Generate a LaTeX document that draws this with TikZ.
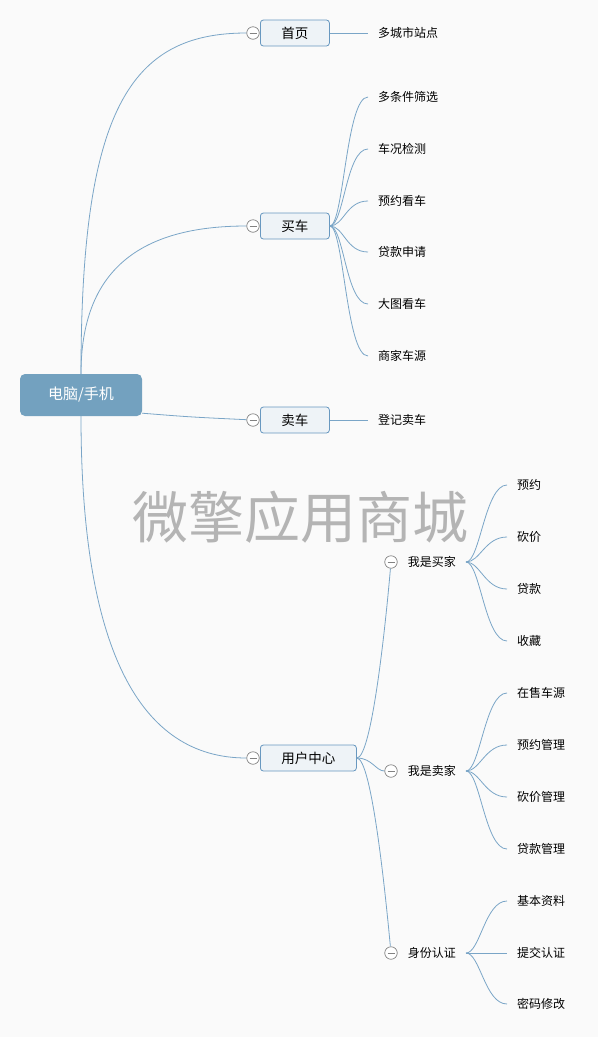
\documentclass[tikz,border=0pt]{standalone}
\usepackage{fontspec}
\setmainfont{Noto Sans CJK SC}
\usetikzlibrary{positioning}
\definecolor{bgc}{RGB}{250,250,250}
\definecolor{linkc}{RGB}{122,165,199}
\definecolor{rootfill}{RGB}{115,161,191}
\definecolor{boxfill}{RGB}{238,243,247}
\definecolor{boxdraw}{RGB}{104,152,192}
\definecolor{foldc}{RGB}{130,130,130}
\definecolor{markc}{RGB}{180,180,180}
\tikzset{
  rootnode/.style = {shape=rectangle, rounded corners=5pt, fill=rootfill,
                     text=white, minimum width=122pt, minimum height=42pt,
                     font=\fontsize{15}{17}\selectfont},
  topic/.style    = {shape=rectangle, rounded corners=3pt, draw=boxdraw,
                     line width=0.8pt, fill=boxfill, anchor=west,
                     minimum height=26pt, inner xsep=21pt,
                     font=\fontsize{13.5}{15}\selectfont},
  fold/.style     = {circle, draw=foldc, fill=white, minimum size=12.5pt,
                     inner sep=0pt, line width=0.7pt,
                     path picture={\draw[foldc, line width=0.7pt] ([xshift=-3.5pt]path picture bounding box.center)
                       -- ([xshift=3.5pt]path picture bounding box.center);}},
  sub/.style      = {anchor=west, inner xsep=10pt, font=\fontsize{12}{14}\selectfont},
  leaf/.style     = {sub},
  link/.style     = {draw=linkc, line width=0.8pt}
}

\begin{document}
\begin{tikzpicture}[x=1pt,y=-1pt]
\fill[bgc] (0,0) rectangle (598,1037);
% watermark
\node[text=markc, font=\fontsize{56}{60}\selectfont] (mark) at (300,517) {微擎应用商城};

\node[rootnode] (root) at (81,395) {电脑/手机};

% first level
\node[fold] (c-home) at (253,33) {};
\node[topic] (home) at (260,33) {首页};
\node[fold] (c-buy) at (253,226) {};
\node[topic] (buy) at (260,226) {买车};
\node[fold] (c-sell) at (253,420) {};
\node[topic] (sell) at (260,420) {卖车};
\node[fold] (c-user) at (253,758) {};
\node[topic] (user) at (260,758) {用户中心};

\draw[link] (root.north) .. controls (81,110) and (130,33) .. (c-home);
\draw[link] (root.north) .. controls (81,270) and (140,226) .. (c-buy);
\draw[link] ([yshift=3pt]root.south east) .. controls (190,417) .. (c-sell);
\draw[link] (root.south) .. controls (81,650) and (140,758) .. (c-user);

% home
\node[leaf] (l-city) at (368,33) {多城市站点};
\draw[link] (home.east) -- (l-city.west);

% buy car
\node[leaf] (l-filter) at (368,97) {多条件筛选};
\node[leaf] (l-check) at (368,149) {车况检测};
\node[leaf] (l-book) at (368,201) {预约看车};
\node[leaf] (l-loan) at (368,252) {贷款申请};
\node[leaf] (l-photo) at (368,304) {大图看车};
\node[leaf] (l-dealer) at (368,356) {商家车源};
\draw[link] (buy.east) .. controls +(14,0) and +(-22,0) .. (l-filter.west);
\draw[link] (buy.east) .. controls +(14,0) and +(-22,0) .. (l-check.west);
\draw[link] (buy.east) .. controls +(14,0) and +(-22,0) .. (l-book.west);
\draw[link] (buy.east) .. controls +(14,0) and +(-22,0) .. (l-loan.west);
\draw[link] (buy.east) .. controls +(14,0) and +(-22,0) .. (l-photo.west);
\draw[link] (buy.east) .. controls +(14,0) and +(-22,0) .. (l-dealer.west);

% sell car
\node[leaf] (l-register) at (368,420) {登记卖车};
\draw[link] (sell.east) -- (l-register.west);

% user center
\node[fold] (c-buyer) at (391,562) {};
\node[sub, right=0pt of c-buyer] (buyer) {我是买家};
\node[fold] (c-seller) at (391,771) {};
\node[sub, right=0pt of c-seller] (seller) {我是卖家};
\node[fold] (c-id) at (391,953) {};
\node[sub, right=0pt of c-id] (ident) {身份认证};
\draw[link] (user.east) .. controls (372,758) and (386,620) .. (c-buyer);
\draw[link] (user.east) .. controls (372,758) and (376,771) .. (c-seller);
\draw[link] (user.east) .. controls (372,758) and (386,900) .. (c-id);

\node[leaf] (l-b-book) at (507,485) {预约};
\node[leaf] (l-b-bargain) at (507,537) {砍价};
\node[leaf] (l-b-loan) at (507,589) {贷款};
\node[leaf] (l-b-fav) at (507,641) {收藏};
\draw[link] (buyer.east) .. controls +(14,0) and +(-22,0) .. (l-b-book.west);
\draw[link] (buyer.east) .. controls +(14,0) and +(-22,0) .. (l-b-bargain.west);
\draw[link] (buyer.east) .. controls +(14,0) and +(-22,0) .. (l-b-loan.west);
\draw[link] (buyer.east) .. controls +(14,0) and +(-22,0) .. (l-b-fav.west);

\node[leaf] (l-s-stock) at (507,693) {在售车源};
\node[leaf] (l-s-book) at (507,745) {预约管理};
\node[leaf] (l-s-bargain) at (507,797) {砍价管理};
\node[leaf] (l-s-loan) at (507,849) {贷款管理};
\draw[link] (seller.east) .. controls +(14,0) and +(-22,0) .. (l-s-stock.west);
\draw[link] (seller.east) .. controls +(14,0) and +(-22,0) .. (l-s-book.west);
\draw[link] (seller.east) .. controls +(14,0) and +(-22,0) .. (l-s-bargain.west);
\draw[link] (seller.east) .. controls +(14,0) and +(-22,0) .. (l-s-loan.west);

\node[leaf] (l-i-info) at (507,901) {基本资料};
\node[leaf] (l-i-submit) at (507,953) {提交认证};
\node[leaf] (l-i-pwd) at (507,1004) {密码修改};
\draw[link] (ident.east) .. controls +(14,0) and +(-22,0) .. (l-i-info.west);
\draw[link] (ident.east) -- (l-i-submit.west);
\draw[link] (ident.east) .. controls +(14,0) and +(-22,0) .. (l-i-pwd.west);
\end{tikzpicture}
\end{document}
